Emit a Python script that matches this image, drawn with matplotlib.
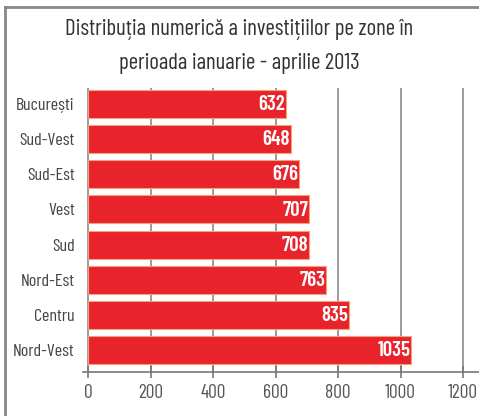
import matplotlib
matplotlib.use('Agg')
import matplotlib.pyplot as plt
from matplotlib.lines import Line2D

plt.rcParams['font.family'] = ['Barlow Condensed', 'DejaVu Sans']

# date
zone = ['București', 'Sud-Vest', 'Sud-Est', 'Vest', 'Sud', 'Nord-Est', 'Centru', 'Nord-Vest']
valori = [632, 648, 676, 707, 708, 763, 835, 1035]
ticks = [0, 200, 400, 600, 800, 1000, 1200]

fig = plt.figure(figsize=(4.79, 4.16), dpi=100)
ax = fig.add_axes([83/479, 44/416, 396/479, 284/416])

y = list(range(len(zone)))
ax.barh(y, valori, height=0.8, color='#e8232b', edgecolor='#f3a27a', linewidth=0.8, zorder=3)

for i, v in enumerate(valori):
    ax.text(v - 3, i + 0.02, str(v), ha='right', va='center', color='white',
            fontsize=15, fontweight='semibold', zorder=4)

ax.set_xlim(-16, 1251)
ax.set_ylim(7.626, -0.455)
ax.set_xticks(ticks)
ax.set_xticklabels([str(t) for t in ticks], fontsize=14, color='#555555')
ax.set_yticks(y)
ax.set_yticklabels(zone, fontsize=13, color='#444444')
ax.tick_params(axis='y', length=0, pad=6)
ax.tick_params(axis='x', length=8, width=1.2, color='#777777', direction='inout', pad=5)
ax.xaxis.grid(True, color='#8a8a8a', linewidth=1.2, zorder=1)
for s in ['top', 'right', 'left']:
    ax.spines[s].set_visible(False)
ax.spines['bottom'].set_color('#777777')
ax.spines['bottom'].set_linewidth(1.2)

fig.text(0.5, 1 - 30/416, 'Distribuția numerică a investițiilor pe zone în',
         ha='center', va='center', fontsize=16.5, color='#333333')
fig.text(0.5, 1 - 63/416, 'perioada ianuarie - aprilie 2013',
         ha='center', va='center', fontsize=16.5, color='#333333')

# chenar
fig.add_artist(Line2D([5/479, 5/479], [0, 1 - 7/416], transform=fig.transFigure, color='#888888', linewidth=2))
fig.add_artist(Line2D([5/479, 1], [1 - 7/416, 1 - 7/416], transform=fig.transFigure, color='#888888', linewidth=2))

fig.savefig('out.png', dpi=100)
